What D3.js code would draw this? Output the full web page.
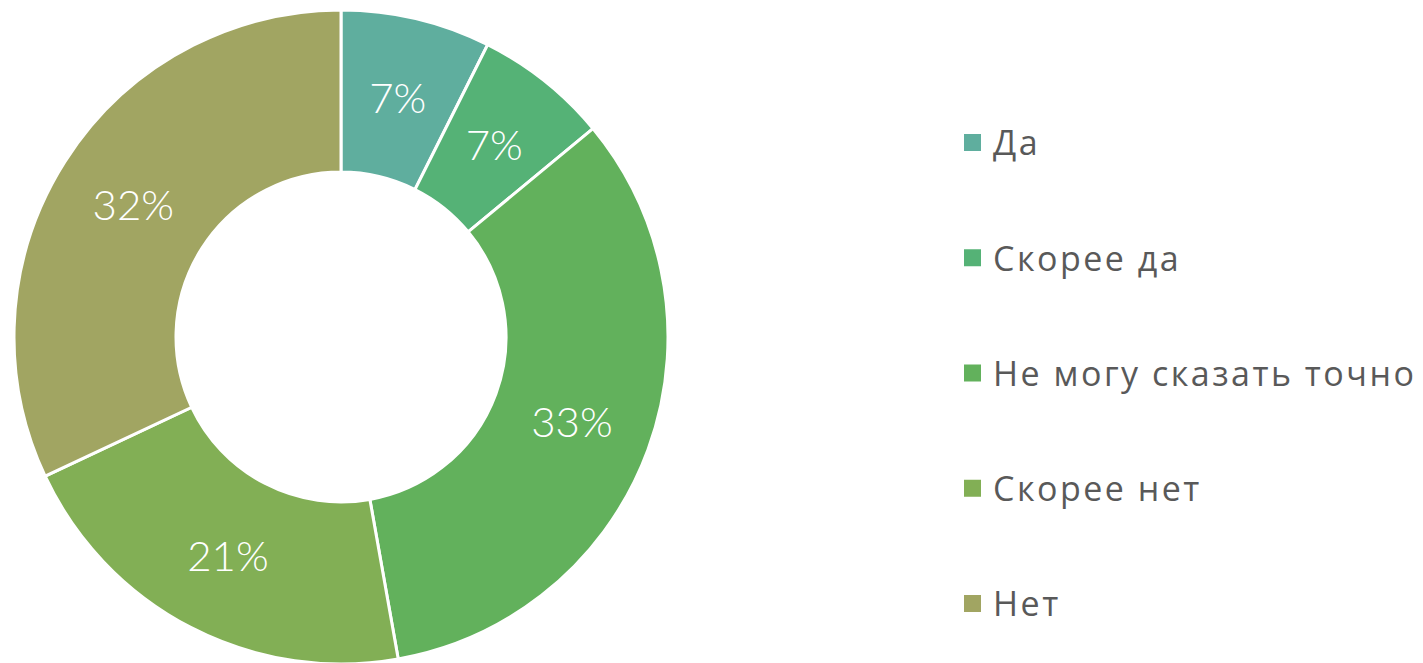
<!DOCTYPE html>
<html>
<head>
<meta charset="utf-8">
<script src="https://cdn.jsdelivr.net/npm/d3@7"></script>
<style>
  body { margin: 0; background: #fff; }
</style>
</head>
<body>
<div id="chart"></div>
<script>
const categories = ['Да', 'Скорее да', 'Не могу сказать точно', 'Скорее нет', 'Нет'];
const values = [7.4, 6.6, 33.2, 20.8, 32.0];
const colors = ['#5FAE9E', '#55B276', '#62B15C', '#82AF55', '#A1A562'];

const width = 1423;
const height = 663;
const cx = 341;
const cy = 337;
const outerRadius = 327;
const innerRadius = 165;
const labelFont = 'Lato, "DejaVu Sans", sans-serif';
const legendFont = '"Open Sans", Lato, sans-serif';

const svg = d3.select('#chart').append('svg')
  .attr('width', width)
  .attr('height', height);

const total = d3.sum(values);
const pie = d3.pie().sort(null).value(d => d)(values);
const arc = d3.arc().innerRadius(innerRadius).outerRadius(outerRadius);
const color = d3.scaleOrdinal().domain(categories).range(colors);

const g = svg.append('g').attr('transform', `translate(${cx},${cy})`);

g.selectAll('path')
  .data(pie)
  .join('path')
  .attr('d', arc)
  .attr('fill', (d, i) => color(categories[i]))
  .attr('stroke', '#fff')
  .attr('stroke-width', 3);

g.selectAll('text')
  .data(pie)
  .join('text')
  .attr('transform', d => `translate(${arc.centroid(d)})`)
  .attr('text-anchor', 'middle')
  .attr('dy', '0.36em')
  .attr('font-family', labelFont)
  .attr('font-weight', 300)
  .attr('font-size', '42px')
  .attr('fill', '#fff')
  .text(d => `${Math.round(d.value / total * 100)}%`);

// legend
const legendY = d3.scalePoint().domain(categories).range([143, 604]);

const legend = svg.append('g')
  .selectAll('g')
  .data(categories)
  .join('g')
  .attr('transform', d => `translate(964,${legendY(d)})`);

legend.append('rect')
  .attr('x', 0)
  .attr('y', -9)
  .attr('width', 17)
  .attr('height', 17)
  .attr('fill', d => color(d));

legend.append('text')
  .attr('x', 29)
  .attr('dy', '0.36em')
  .attr('font-family', legendFont)
  .attr('font-size', '34px')
  .attr('letter-spacing', '2.5px')
  .attr('fill', '#595959')
  .text(d => d);
</script>
</body>
</html>
